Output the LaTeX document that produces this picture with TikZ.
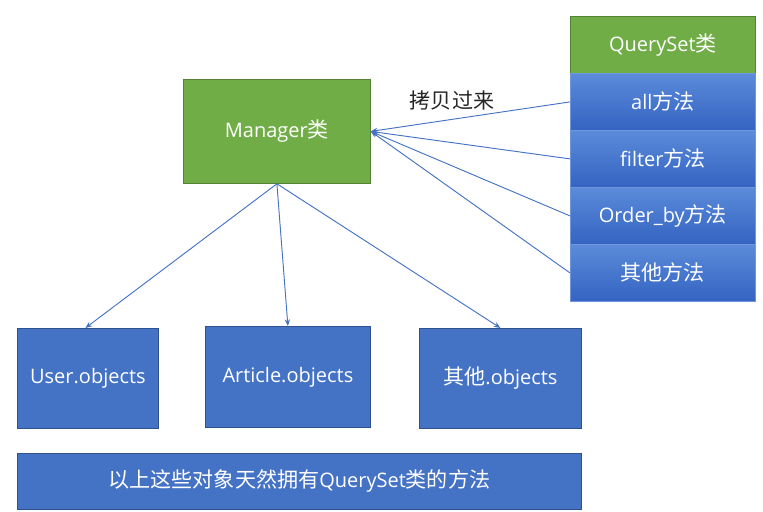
\documentclass[tikz,border=0pt]{standalone}
\usepackage{fontspec}
\setmainfont{Open Sans}
\newfontfamily\cjkf{Noto Sans CJK SC}
\newcommand{\cjk}{\cjkf\fontsize{15.8}{18}\selectfont}
\usetikzlibrary{arrows.meta}
\definecolor{gfill}{HTML}{70AD47}
\definecolor{gline}{HTML}{548235}
\definecolor{bfill}{HTML}{4472C4}
\definecolor{bline}{HTML}{2F528F}
\definecolor{btop}{HTML}{5B8BD9}
\definecolor{bbot}{HTML}{3463C2}
\definecolor{bsep}{HTML}{6F97DC}
\begin{document}
\begin{tikzpicture}[x=0.75pt,y=-0.75pt,
  box/.style={draw, line width=0.6pt, inner sep=0pt, text=white, font=\fontsize{15}{18}\selectfont, anchor=north west},
  greenbox/.style={box, fill=gfill, draw=gline},
  bluebox/.style={box, fill=bfill, draw=bline},
  methbox/.style={box, top color=btop, bottom color=bbot, draw=bsep},
  conn/.style={draw=bfill, line width=0.7pt, -{Stealth[length=5pt,width=4pt]}}
]
\useasboundingbox (0,0) rectangle (763,511);
\node[greenbox, minimum width=187*0.75pt, minimum height=104*0.75pt] (mgr) at (183,79) {Manager{\cjk 类}};
\node[greenbox, minimum width=185*0.75pt, minimum height=57*0.75pt] (qs) at (570,16) {QuerySet{\cjk 类}};
\node[methbox, minimum width=185*0.75pt, minimum height=57*0.75pt] (all) at (570,73) {all{\cjk 方法}};
\node[methbox, minimum width=185*0.75pt, minimum height=57*0.75pt] (filter) at (570,130) {filter{\cjk 方法}};
\node[methbox, minimum width=185*0.75pt, minimum height=57*0.75pt] (order) at (570,187) {Order\_by{\cjk 方法}};
\node[methbox, minimum width=185*0.75pt, minimum height=57*0.75pt] (other) at (570,244) {{\cjk 其他方法}};
\node[bluebox, minimum width=141*0.75pt, minimum height=100*0.75pt] (user) at (17,328) {User.objects};
\node[bluebox, minimum width=165*0.75pt, minimum height=101*0.75pt] (article) at (205,326) {Article.objects};
\node[bluebox, minimum width=162*0.75pt, minimum height=100*0.75pt] (otherobj) at (419,328) {{\cjk 其他}.objects};
\node[bluebox, minimum width=564*0.75pt, minimum height=56*0.75pt] (note) at (17,453) {{\cjk 以上这些对象天然拥有}QuerySet{\cjk 类的方法}};
\node[font=\cjk, text=black!85] (lbl) at (452,100) {拷贝过来};
\draw[conn] (all.west) -- (mgr.east);
\draw[conn] (filter.west) -- (mgr.east);
\draw[conn] (order.west) -- (mgr.east);
\draw[conn] (other.west) -- (mgr.east);
\draw[conn] (mgr.south) -- ([xshift=-2.5*0.75pt]user.north);
\draw[conn] (mgr.south) -- (article.north);
\draw[conn] (mgr.south) -- (otherobj.north);
\end{tikzpicture}
\end{document}
